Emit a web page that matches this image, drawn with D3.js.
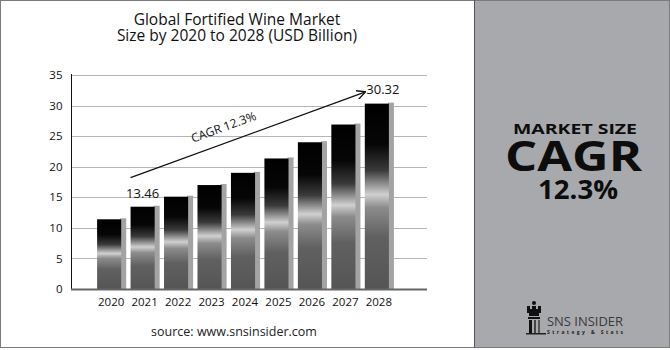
<!DOCTYPE html>
<html>
<head>
<meta charset="utf-8">
<script src="https://cdn.jsdelivr.net/npm/d3@7"></script>
<style>
  body { margin: 0; background: #fff; }
  svg text { font-family: "Open Sans", sans-serif; }
</style>
</head>
<body>
<div id="chart"></div>
<script>
// data
const years = ["2020", "2021", "2022", "2023", "2024", "2025", "2026", "2027", "2028"];
const values = [11.4, 13.46, 15.1, 17.0, 19.0, 21.35, 24.0, 26.9, 30.32];
const yTicks = [0, 5, 10, 15, 20, 25, 30, 35];
const cagrLabel = "CAGR 12.3%";

const W = 670, H = 350;

const svg = d3.select("#chart").append("svg")
  .attr("width", W)
  .attr("height", H);

// frame
svg.append("rect")
  .attr("x", 0.5).attr("y", 0.5)
  .attr("width", W - 1).attr("height", H - 3)
  .attr("fill", "#fff")
  .attr("stroke", "#7a7a7a");

// right panel
svg.append("rect")
  .attr("x", 474).attr("y", 1)
  .attr("width", W - 475).attr("height", H - 4)
  .attr("fill", "#a8a9ad");
svg.append("line")
  .attr("x1", 474.5).attr("x2", 474.5)
  .attr("y1", 0).attr("y2", H - 2)
  .attr("stroke", "#555");

// gradient for bars
const defs = svg.append("defs");
const grad = defs.append("linearGradient")
  .attr("id", "barGrad")
  .attr("x1", 0).attr("y1", 0).attr("x2", 0).attr("y2", 1);
[
  [0, "#000"], [0.22, "#060606"], [0.36, "#3a3a3a"], [0.49, "#d0d0d0"],
  [0.56, "#8c8c8c"], [0.72, "#606060"], [1, "#555"]
].forEach(s => grad.append("stop").attr("offset", s[0]).attr("stop-color", s[1]));

// scales
const x = d3.scaleBand()
  .domain(years)
  .range([72, 418])
  .paddingInner(0.16)
  .paddingOuter(0.75);

const y = d3.scaleLinear()
  .domain([0, 35])
  .range([289, 75]);

const barW = x.bandwidth() - 4;

// title
svg.append("text")
  .attr("x", 237).attr("y", 25)
  .attr("text-anchor", "middle")
  .style("font-size", "15.5px")
  .attr("fill", "#111")
  .text("Global Fortified Wine Market");
svg.append("text")
  .attr("x", 237).attr("y", 41)
  .attr("text-anchor", "middle")
  .style("font-size", "15.5px")
  .attr("fill", "#111")
  .text("Size by 2020 to 2028 (USD Billion)");

// grid
svg.append("g")
  .selectAll("line")
  .data(yTicks.slice(1))
  .join("line")
  .attr("x1", 72).attr("x2", 427)
  .attr("y1", d => Math.round(y(d)) + 0.5)
  .attr("y2", d => Math.round(y(d)) + 0.5)
  .attr("stroke", "#b5b5b5");

// y axis
const yAxis = svg.append("g")
  .attr("transform", "translate(71.5,0)")
  .call(d3.axisLeft(y).tickValues(yTicks).tickSize(0).tickPadding(9));
yAxis.select(".domain").attr("stroke", "#111").attr("d", `M0,${y(35) - 1}V${y(0)}`);
yAxis.selectAll("text").style("font-size", "11.5px").attr("fill", "#111");

// bars: shadow strip then gradient body
svg.append("g")
  .selectAll("rect")
  .data(values)
  .join("rect")
  .attr("x", (d, i) => x(years[i]) + barW - 1)
  .attr("y", d => y(d) - 1)
  .attr("width", 6)
  .attr("height", d => y(0) - y(d) + 1)
  .attr("fill", "#a3a3a3");

svg.append("g")
  .selectAll("rect")
  .data(values)
  .join("rect")
  .attr("x", (d, i) => x(years[i]))
  .attr("y", d => y(d))
  .attr("width", barW)
  .attr("height", d => y(0) - y(d))
  .attr("fill", "url(#barGrad)");

// x axis baseline
svg.append("line")
  .attr("x1", 71).attr("x2", 427)
  .attr("y1", 289.5).attr("y2", 289.5)
  .attr("stroke", "#666")
  .attr("stroke-width", 2);

const xAxis = svg.append("g")
  .attr("transform", "translate(0,289)")
  .call(d3.axisBottom(x).tickSize(0).tickPadding(9));
xAxis.select(".domain").remove();
xAxis.selectAll("text").style("font-size", "11.5px").attr("fill", "#111");

// value labels on first and last shown
svg.append("text")
  .attr("x", x("2021") + barW / 2)
  .attr("y", y(values[1]) - 9)
  .attr("text-anchor", "middle")
  .style("font-size", "13px")
  .attr("fill", "#111")
  .text(values[1]);
svg.append("text")
  .attr("x", x("2028") + barW / 2 + 6)
  .attr("y", y(values[8]) - 10)
  .attr("text-anchor", "middle")
  .style("font-size", "13px")
  .attr("fill", "#111")
  .text(values[8].toFixed(2));

// CAGR arrow
defs.append("marker")
  .attr("id", "arrow")
  .attr("viewBox", "0 0 10 10")
  .attr("refX", 9).attr("refY", 5)
  .attr("markerWidth", 7).attr("markerHeight", 7)
  .attr("orient", "auto")
  .append("path")
  .attr("d", "M0,0L10,5L0,10")
  .attr("fill", "none")
  .attr("stroke", "#111")
  .attr("stroke-width", 1.5);

const ax1 = x("2021"), ay1 = y(18.2);
const ax2 = x("2028"), ay2 = y(32.2);
svg.append("line")
  .attr("x1", ax1).attr("y1", ay1)
  .attr("x2", ax2).attr("y2", ay2)
  .attr("stroke", "#111")
  .attr("stroke-width", 1.3)
  .attr("marker-end", "url(#arrow)");

const ang = Math.atan2(ay2 - ay1, ax2 - ax1) * 180 / Math.PI;
svg.append("text")
  .attr("transform", `translate(225,131) rotate(${ang})`)
  .attr("text-anchor", "middle")
  .style("font-size", "12px")
  .attr("fill", "#111")
  .text(cagrLabel);

// source
svg.append("text")
  .attr("x", 234).attr("y", 336)
  .attr("text-anchor", "middle")
  .style("font-size", "12.5px")
  .attr("fill", "#222")
  .text("source: www.snsinsider.com");

// right panel text
svg.append("text")
  .attr("x", 513).attr("y", 134)
  .attr("textLength", 124)
  .attr("lengthAdjust", "spacingAndGlyphs")
  .style("font-size", "15px")
  .style("font-weight", "bold")
  .attr("fill", "#0d0d0d")
  .text("MARKET SIZE");
svg.append("text")
  .attr("x", 505).attr("y", 171)
  .attr("textLength", 137)
  .attr("lengthAdjust", "spacingAndGlyphs")
  .style("font-size", "42px")
  .style("font-weight", "bold")
  .attr("fill", "#0d0d0d")
  .text("CAGR");
svg.append("text")
  .attr("x", 538).attr("y", 199)
  .attr("textLength", 80)
  .attr("lengthAdjust", "spacingAndGlyphs")
  .style("font-size", "27px")
  .style("font-weight", "bold")
  .attr("fill", "#0d0d0d")
  .text("12.3%");

// logo
const logo = svg.append("g").attr("transform", "translate(526,300)");
logo.append("circle").attr("cx", 8).attr("cy", 3).attr("r", 2).attr("fill", "#111");
logo.append("path")
  .attr("d", "M1,6h3v3h2v-3h4v3h2v-3h3v7h-2v3h-10v-3h-2z")
  .attr("fill", "#111");
logo.append("rect").attr("x", 2).attr("y", 17).attr("width", 12).attr("height", 2).attr("fill", "#111");
logo.append("rect").attr("x", 3).attr("y", 20).attr("width", 3).attr("height", 14).attr("fill", "#111");
logo.append("rect").attr("x", 8).attr("y", 20).attr("width", 2).attr("height", 14).attr("fill", "#444");
logo.append("rect").attr("x", 12).attr("y", 20).attr("width", 2).attr("height", 14).attr("fill", "#555");
logo.append("rect").attr("x", 0).attr("y", 33).attr("width", 20).attr("height", 1.5).attr("fill", "#222");
logo.append("text")
  .attr("x", 21).attr("y", 26)
  .attr("textLength", 76)
  .attr("lengthAdjust", "spacingAndGlyphs")
  .style("font-size", "13.5px")
  .attr("fill", "#3a3a3a")
  .text("SNS INSIDER");
logo.append("text")
  .attr("x", 21).attr("y", 34)
  .attr("textLength", 76)
  .attr("lengthAdjust", "spacing")
  .style("font-size", "5px")
  .style("font-weight", "bold")
  .attr("fill", "#222")
  .text("Strategy & Stats");
</script>
</body>
</html>
